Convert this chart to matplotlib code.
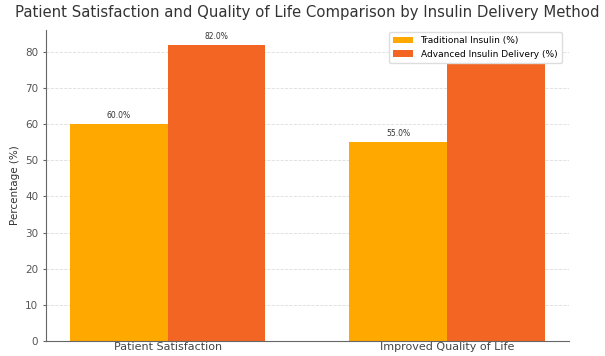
import numpy as np
import matplotlib
matplotlib.use('Agg')
import matplotlib.pyplot as plt

# ────────────────────────────────────────────────────────────────────────────────

categories = ['Patient Satisfaction', 'Improved Quality of Life']
traditional = [60.0, 55.0]
advanced = [82.0, 78.0]
series_names = ['Traditional Insulin (%)', 'Advanced Insulin Delivery (%)']

# ────────────────────────────────────────────────────────────────────────────────

fig = plt.figure(figsize=(6.05, 3.56), dpi=100)
ax = fig.add_axes([0.076, 0.042, 0.864, 0.874])

x = np.arange(len(categories))
w = 0.35
b0 = ax.bar(x - w/2, traditional, w, color='#FFA800', label=series_names[0])
b1 = ax.bar(x + w/2, advanced, w, color='#F26522', label=series_names[1])

for bars in (b0, b1):
    for rect in bars:
        h = rect.get_height()
        ax.annotate(f'{h:.1f}%', (rect.get_x() + rect.get_width()/2, h),
                    xytext=(0, 3), textcoords='offset points',
                    ha='center', va='bottom', fontsize=5.5, color='#333333')

ax.set_xticks(x)
ax.set_xticklabels(categories, fontsize=8, color='#444444')
ax.set_yticks(np.arange(0, 81, 10))
ax.tick_params(axis='y', labelsize=7.5, labelcolor='#555555', length=2, color='#666666')
ax.tick_params(axis='x', length=0, pad=1)
ax.set_ylabel('Percentage (%)', fontsize=7.5, color='#333333', labelpad=4)
ax.set_title('Patient Satisfaction and Quality of Life Comparison by Insulin Delivery Method',
             fontsize=10.7, color='#333333', pad=9)

ax.yaxis.grid(True, linestyle='--', color='#dddddd', linewidth=0.6)
ax.set_axisbelow(True)
for s in ('top', 'right'):
    ax.spines[s].set_visible(False)
ax.spines['left'].set_color('#666666')
ax.spines['bottom'].set_color('#666666')

leg = ax.legend(loc='upper right', fontsize=6.5, framealpha=1.0,
                edgecolor='#dddddd', borderaxespad=0.2, handlelength=2.2,
                borderpad=0.5, bbox_to_anchor=(0.99, 1.0))
leg.set_zorder(10)

plt.savefig('out.png', dpi=100)
